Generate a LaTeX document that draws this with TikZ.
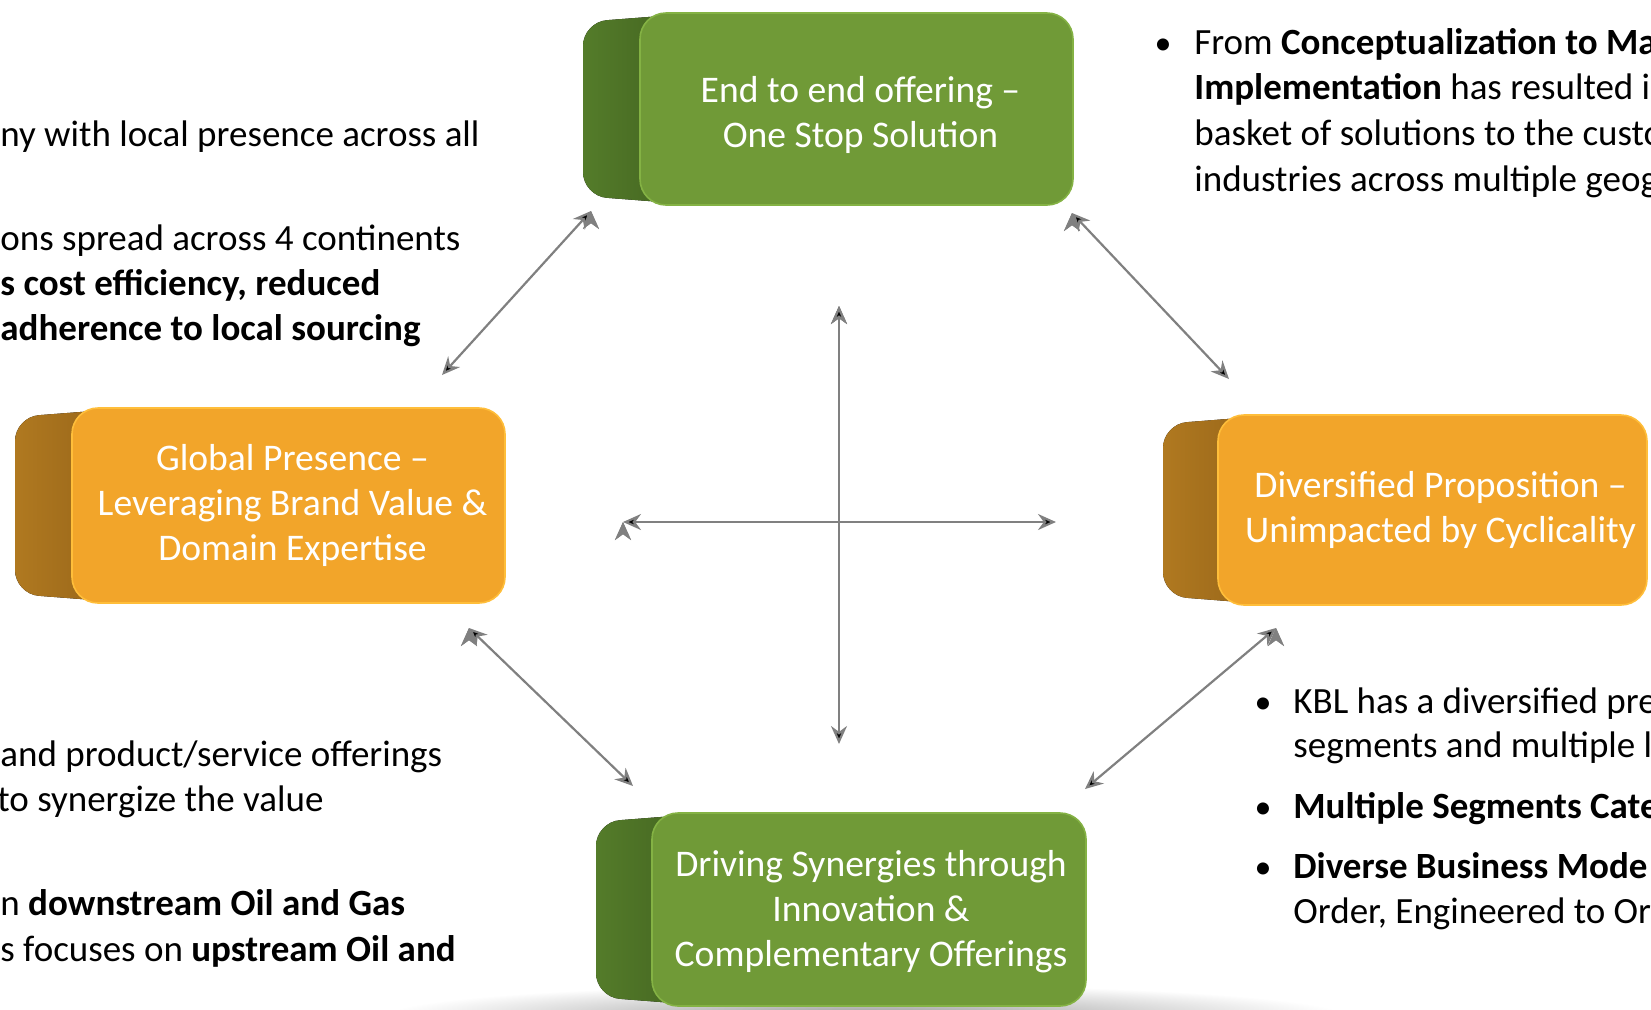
\documentclass[tikz,border=0pt]{standalone}
\usepackage{fontspec}
\setmainfont{Carlito}
\usetikzlibrary{arrows.meta}

\definecolor{greenface}{RGB}{112,154,55}
\definecolor{greenrim}{RGB}{132,178,68}
\definecolor{greensideA}{RGB}{84,124,42}
\definecolor{greensideB}{RGB}{64,95,30}
\definecolor{orangeface}{RGB}{242,165,42}
\definecolor{orangerim}{RGB}{255,190,58}
\definecolor{orangesideA}{RGB}{176,121,32}
\definecolor{orangesideB}{RGB}{146,97,24}
\definecolor{arrowgray}{RGB}{128,128,128}

% side of a block: left edge, front edge, top, bottom, two colours
\newcommand{\blockside}[6]{%
  \fill[rounded corners=12pt, left color=#5, right color=#6]
    (#2+60,#3) -- (#1,#3+9) -- (#1,#4-9) -- (#2+60,#4) -- cycle;}

\tikzset{
  face/.style={rounded corners=13pt, inner sep=0pt, line width=0.8pt},
  facetext/.style={text=white, align=center, inner sep=0pt,
    font=\fontsize{18.8}{22.4}\selectfont},
  arr/.style={draw=arrowgray, line width=1.1pt,
    {Stealth[length=9pt,width=8pt]}-{Stealth[length=9pt,width=8pt]}},
  txt/.style={anchor=base west, inner sep=0pt, font=\fontsize{18.5}{22}\selectfont},
  bul/.style={anchor=base, inner sep=0pt, font=\fontsize{17}{22}\selectfont}
}

\begin{document}
\begin{tikzpicture}[x=0.5pt,y=-0.5pt]
\useasboundingbox (0,0) rectangle (1651,1009);
\clip (0,0) rectangle (1651,1009);

% shadow under the bottom block
\shade[inner color=black!40, outer color=white] (865,1016) ellipse (480 and 32);

% blocks
\blockside{583}{640}{13}{205}{greensideA}{greensideB}
\node[face, fill=greenface, draw=greenrim, minimum width=216.5pt, minimum height=96pt] (top) at (856.5,109) {};
\node[facetext] (toptext) at ([xshift=2pt,yshift=-3pt]top.center) {End to end offering –\\One Stop Solution};

\blockside{15}{72}{408}{603}{orangesideA}{orangesideB}
\node[face, fill=orangeface, draw=orangerim, minimum width=216.5pt, minimum height=97.5pt] (left) at (288.5,505.5) {};
\node[facetext] (lefttext) at ([xshift=2pt]left.center) {Global Presence –\\Leveraging Brand Value \&\\Domain Expertise};

\blockside{1163}{1218}{415}{605}{orangesideA}{orangesideB}
\node[face, fill=orangeface, draw=orangerim, minimum width=214.5pt, minimum height=95pt] (right) at (1432.5,510) {};
\node[facetext] (righttext) at ([xshift=4pt]right.center) {Diversified Proposition –\\Unimpacted by Cyclicality};

\blockside{596}{652}{813}{1006}{greensideA}{greensideB}
\node[face, fill=greenface, draw=greenrim, minimum width=217pt, minimum height=96.5pt] (bottom) at (869,909.5) {};
\node[facetext] (bottomtext) at ([xshift=1pt,yshift=-1pt]bottom.center) {Driving Synergies through\\Innovation \&\\Complementary Offerings};

% arrow ends
\coordinate (top-sw) at (591,211);
\coordinate (left-ne) at (442,375);
\coordinate (top-se) at (1072,213);
\coordinate (right-nw) at (1229,379);
\coordinate (left-se) at (469,628);
\coordinate (bottom-nw) at (633,786);
\coordinate (right-sw) at (1276,628);
\coordinate (bottom-ne) at (1085,789);
\coordinate (hub-n) at (839,306);
\coordinate (hub-s) at (839,744);
\coordinate (hub-w) at (623,522);
\coordinate (hub-e) at (1056,522);

\draw[arr] (top-sw) edge (left-ne);
\draw[arr] (top-se) edge (right-nw);
\draw[arr] (left-se) edge (bottom-nw);
\draw[arr] (right-sw) edge (bottom-ne);
\draw[arr] (hub-n) edge (hub-s);
\draw[arr] (hub-w) edge (hub-e);

% left column
\node[txt] (l1) at (0,146) {ny with local presence across all};
\node[txt] (l2) at (0,250) {ons spread across 4 continents};
\node[txt] (l3) at (0,295) {\textbf{s cost efficiency, reduced}};
\node[txt] (l4) at (0,340) {\textbf{adherence to local sourcing}};
\node[txt] (l5) at (0,766) {and product/service offerings};
\node[txt] (l6) at (-3,811) {to synergize the value};
\node[txt] (l7) at (0,915) {n \textbf{downstream Oil and Gas}};
\node[txt] (l8) at (0,961) {s focuses on \textbf{upstream Oil and}};

% top right
\node[bul] (b1) at (1163,54) {•};
\node[txt] (r1) at (1194,54) {From \textbf{Conceptualization to Ma}};
\node[txt] (r2) at (1194,99) {\textbf{Implementation} has resulted i};
\node[txt] (r3) at (1194,145) {basket of solutions to the custo};
\node[txt] (r4) at (1194,191) {industries across multiple geog};

% bottom right
\node[bul] (b2) at (1263,713) {•};
\node[txt] (s1) at (1293,713) {KBL has a diversified pre};
\node[txt] (s2) at (1293,757) {segments and multiple l};
\node[bul] (b3) at (1263,818) {•};
\node[txt] (s3) at (1293,818) {\textbf{Multiple Segments Cate}};
\node[bul] (b4) at (1263,878) {•};
\node[txt] (s4) at (1293,878) {\textbf{Diverse Business Mode}};
\node[txt] (s5) at (1293,923) {Order, Engineered to Or};
\end{tikzpicture}
\end{document}
